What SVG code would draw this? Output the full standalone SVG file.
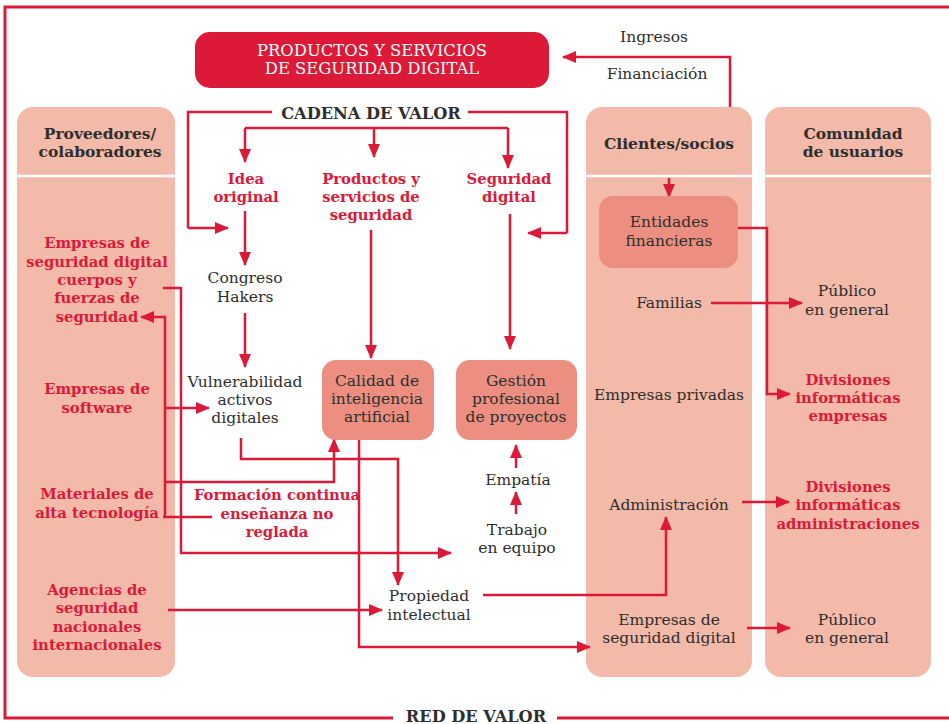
<svg xmlns="http://www.w3.org/2000/svg" width="949" height="724" viewBox="0 0 949 724">
<defs>
<marker id="ah" markerUnits="userSpaceOnUse" markerWidth="14" markerHeight="12" refX="13" refY="6" orient="auto"><path d="M0,0 L14,6 L0,12 z" fill="#dc1a38"/></marker>
</defs>
<style>
.t{font-family:"DejaVu Serif","Liberation Serif",serif;font-size:15.5px;fill:#2e2e2e;text-anchor:middle}
.b{font-weight:bold}
.r{fill:#dc1a38;font-size:14.8px}
.w{fill:#ffffff;font-size:16.4px}
.big{font-size:16.2px}
.ln{fill:none;stroke:#dc1a38;stroke-width:2.5}
.a{marker-end:url(#ah)}
.panel{fill:#f3b9a9}
.node{fill:#ec8f80}
.div{stroke:#ffffff;stroke-width:2.5}
</style>
<rect width="949" height="724" fill="#ffffff"/>

<g id="frame">
<path class="ln" style="stroke-width:3" d="M949,7 H5 V718 H393 M557,718 H949"/>
<text class="t b big" x="476" y="722">RED DE VALOR</text>
</g>

<g id="panel-proveedores">
<rect class="panel" x="17" y="107" width="158" height="570" rx="16"/>
<line class="div" x1="17" y1="176" x2="175" y2="176"/>
<text class="t b" x="100" y="139">Proveedores/</text>
<text class="t b" x="100" y="157">colaboradores</text>
</g>
<g id="panel-clientes">
<rect class="panel" x="586" y="107" width="166" height="570" rx="16"/>
<line class="div" x1="586" y1="176" x2="752" y2="176"/>
<text class="t b" x="669" y="149">Clientes/socios</text>
</g>
<g id="panel-comunidad">
<rect class="panel" x="765" y="107" width="166" height="570" rx="16"/>
<line class="div" x1="765" y1="176" x2="931" y2="176"/>
<text class="t b" x="853" y="139">Comunidad</text>
<text class="t b" x="853" y="157">de usuarios</text>
</g>

<g id="connectors">
<path class="ln a" d="M730,107 V57 H563"/>
<path class="ln" d="M272,112 H188 V228"/>
<path class="ln a" d="M188,228 H228"/>
<path class="ln" d="M468,112 H567 V233"/>
<path class="ln a" d="M567,233 H528"/>
<path class="ln" d="M245,128 H508"/>
<path class="ln a" d="M245,128 V162"/>
<path class="ln a" d="M374,128 V157"/>
<path class="ln a" d="M508,128 V168"/>
<path class="ln a" d="M245,211 V265"/>
<path class="ln a" d="M245,313 V367"/>
<path class="ln a" d="M371,230 V358"/>
<path class="ln a" d="M510,214 V349"/>
<path class="ln a" d="M516,468 V445"/>
<path class="ln a" d="M516,514 V492"/>
<path class="ln a" d="M163,288 H181 V553 H451"/>
<path class="ln" d="M212,517 H163"/>
<path class="ln a" d="M165,517 V317 H141"/>
<path class="ln a" d="M165,408 H209"/>
<path class="ln a" d="M165,482 H334 V439"/>
<path class="ln a" d="M241,438 V459 H398 V585"/>
<path class="ln a" d="M359,440 V647 H590"/>
<path class="ln a" d="M168,610 H382"/>
<path class="ln a" d="M483,595 H666 V517"/>
<path class="ln a" d="M669,178 V197"/>
<path class="ln a" d="M738,228 H767 V394 H790"/>
<path class="ln a" d="M711,303 H802"/>
<path class="ln a" d="M742,502 H789"/>
<path class="ln a" d="M747,628 H790"/>
</g>

<g id="productos-servicios">
<rect x="195" y="32" width="354" height="56" rx="15" fill="#dc1a38"/>
<text class="t w" x="372" y="56">PRODUCTOS Y SERVICIOS</text>
<text class="t w" x="372" y="74">DE SEGURIDAD DIGITAL</text>
</g>
<g id="ingresos">
<text class="t" x="654" y="42">Ingresos</text>
<text class="t" x="657" y="79">Financiación</text>
</g>
<g id="cadena-valor">
<text class="t b big" x="371" y="119">CADENA DE VALOR</text>
</g>
<g id="idea-original">
<text class="t b r" x="246" y="184">Idea</text>
<text class="t b r" x="246" y="202">original</text>
</g>
<g id="productos-y-servicios">
<text class="t b r" x="371" y="184">Productos y</text>
<text class="t b r" x="371" y="202">servicios de</text>
<text class="t b r" x="371" y="220">seguridad</text>
</g>
<g id="seguridad-digital">
<text class="t b r" x="509" y="184">Seguridad</text>
<text class="t b r" x="509" y="202">digital</text>
</g>
<g id="congreso">
<text class="t" x="245" y="283">Congreso</text>
<text class="t" x="245" y="302">Hakers</text>
</g>
<g id="vulnerabilidad">
<text class="t" x="245" y="387">Vulnerabilidad</text>
<text class="t" x="245" y="405">activos</text>
<text class="t" x="245" y="423">digitales</text>
</g>
<g id="calidad">
<rect class="node" x="322" y="360" width="112" height="80" rx="14"/>
<text class="t" x="377" y="386">Calidad de</text>
<text class="t" x="377" y="404">inteligencia</text>
<text class="t" x="377" y="422">artificial</text>
</g>
<g id="gestion">
<rect class="node" x="456" y="360" width="121" height="80" rx="14"/>
<text class="t" x="516" y="386">Gestión</text>
<text class="t" x="516" y="404">profesional</text>
<text class="t" x="516" y="422">de proyectos</text>
</g>
<g id="empatia">
<text class="t" x="518" y="485">Empatía</text>
</g>
<g id="trabajo">
<text class="t" x="517" y="535">Trabajo</text>
<text class="t" x="517" y="553">en equipo</text>
</g>
<g id="formacion">
<text class="t b r" x="277" y="500">Formación continua</text>
<text class="t b r" x="277" y="519">enseñanza no</text>
<text class="t b r" x="277" y="537">reglada</text>
</g>
<g id="propiedad">
<text class="t" x="429" y="601">Propiedad</text>
<text class="t" x="429" y="620">intelectual</text>
</g>

<g id="empresas-seguridad-cuerpos">
<text class="t b r" x="97" y="248">Empresas de</text>
<text class="t b r" x="97" y="267">seguridad digital</text>
<text class="t b r" x="97" y="285">cuerpos y</text>
<text class="t b r" x="97" y="303">fuerzas de</text>
<text class="t b r" x="97" y="322">seguridad</text>
</g>
<g id="empresas-software">
<text class="t b r" x="97" y="394">Empresas de</text>
<text class="t b r" x="97" y="413">software</text>
</g>
<g id="materiales">
<text class="t b r" x="97" y="499">Materiales de</text>
<text class="t b r" x="97" y="518">alta tecnología</text>
</g>
<g id="agencias">
<text class="t b r" x="97" y="595">Agencias de</text>
<text class="t b r" x="97" y="613">seguridad</text>
<text class="t b r" x="97" y="632">nacionales</text>
<text class="t b r" x="97" y="650">internacionales</text>
</g>

<g id="entidades">
<rect class="node" x="599" y="196" width="139" height="72" rx="14"/>
<text class="t" x="669" y="227">Entidades</text>
<text class="t" x="669" y="246">financieras</text>
</g>
<g id="familias"><text class="t" x="669" y="308">Familias</text></g>
<g id="empresas-privadas"><text class="t" x="669" y="400">Empresas privadas</text></g>
<g id="administracion"><text class="t" x="669" y="510">Administración</text></g>
<g id="empresas-seguridad-digital">
<text class="t" x="669" y="625">Empresas de</text>
<text class="t" x="669" y="643">seguridad digital</text>
</g>
<g id="publico-1">
<text class="t" x="847" y="296">Público</text>
<text class="t" x="847" y="315">en general</text>
</g>
<g id="divisiones-empresas">
<text class="t b r" x="848" y="385">Divisiones</text>
<text class="t b r" x="848" y="403">informáticas</text>
<text class="t b r" x="848" y="421">empresas</text>
</g>
<g id="divisiones-administraciones">
<text class="t b r" x="848" y="492">Divisiones</text>
<text class="t b r" x="848" y="510">informáticas</text>
<text class="t b r" x="848" y="529">administraciones</text>
</g>
<g id="publico-2">
<text class="t" x="847" y="625">Público</text>
<text class="t" x="847" y="643">en general</text>
</g>
</svg>
